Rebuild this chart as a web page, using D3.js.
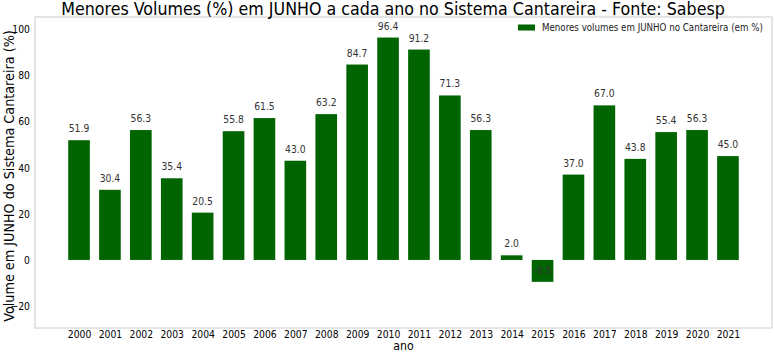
<!DOCTYPE html>
<html><head><meta charset="utf-8">
<script src="https://cdn.jsdelivr.net/npm/d3@7"></script>
<style>body{margin:0;background:#fff}svg{display:block;font-family:"DejaVu Sans",sans-serif}</style>
</head><body>
<script>
const years = ["2000","2001","2002","2003","2004","2005","2006","2007","2008","2009","2010","2011","2012","2013","2014","2015","2016","2017","2018","2019","2020","2021"];
const volumes = [51.9,30.4,56.3,35.4,20.5,55.8,61.5,43.0,63.2,84.7,96.4,91.2,71.3,56.3,2.0,-9.5,37.0,67.0,43.8,55.4,56.3,45.0];
const yTicks = [-20,0,20,40,60,80,100];
const titleText = "Menores Volumes (%) em JUNHO a cada ano no Sistema Cantareira  - Fonte: Sabesp";
const legendText = "Menores volumes em JUNHO no Cantareira (em %)";
const yLabel = "Volume em JUNHO do Sistema Cantareira (%)";
const xLabel = "ano";

const W=774,H=352;
const L=35,R=772,T=17,B=328;
const svg=d3.select("body").append("svg").attr("width",W).attr("height",H);
const x=d3.scaleLinear().domain([-1.425,years.length-1+1.425]).range([L,R]);
const y=d3.scaleLinear().domain([-29.5,105.3]).range([B,T]);
const bw=(x(1)-x(0))*0.7;
const green="#006400";
const C=0.88;
function condense(sel,f){sel.each(function(){const n=this.getComputedTextLength();d3.select(this).attr("textLength",n*f).attr("lengthAdjust","spacingAndGlyphs");});}

svg.append("rect").attr("x",L).attr("y",T).attr("width",R-L).attr("height",B-T)
  .attr("fill","none").attr("stroke","#cccccc").attr("stroke-width",1);

svg.selectAll("rect.bar").data(volumes).join("rect").attr("class","bar")
  .attr("x",(d,i)=>x(i)-bw/2).attr("width",bw)
  .attr("y",d=>Math.min(y(d),y(0))).attr("height",d=>Math.abs(y(d)-y(0)))
  .attr("fill",green);

svg.selectAll("text.val").data(volumes).join("text").attr("class","val")
  .attr("x",(d,i)=>x(i)).attr("y",d=>y(d)-8)
  .attr("text-anchor","middle").attr("font-size",10.5).attr("fill","#333")
  .text(d=>d.toFixed(1)).call(condense,C);

// y axis
const ya=d3.axisLeft(y).tickValues(yTicks).tickSize(0).tickPadding(4).tickFormat(d=>d<0?"\u2212"+Math.abs(d):d);
const gy=svg.append("g").attr("transform",`translate(${L-1},0)`).call(ya);
gy.select(".domain").remove();
gy.selectAll("text").attr("font-size",10.5).attr("fill","#000").attr("font-family","DejaVu Sans").call(condense,C);

// x axis
const xa=d3.axisBottom(x).tickValues(d3.range(years.length)).tickSize(0).tickPadding(0).tickFormat(i=>years[i]);
const gx=svg.append("g").attr("transform",`translate(0,${B})`).call(xa);
gx.select(".domain").remove();
gx.selectAll("text").attr("font-size",10.5).attr("fill","#000").attr("font-family","DejaVu Sans").attr("dy",null).attr("y",10).call(condense,C);

// title
const tt=svg.append("text").attr("text-anchor","middle")
  .attr("font-size",17).attr("fill","#000").text(titleText);
const tw=tt.node().getComputedTextLength();
tt.attr("transform",`translate(393,14.5) scale(${664/tw},1)`);

svg.append("text").attr("x",(L+R)/2).attr("y",350).attr("text-anchor","middle")
  .attr("font-size",12.5).attr("fill","#000").text(xLabel).call(condense,C);

const yl=svg.append("text").attr("text-anchor","middle")
  .attr("font-size",14).attr("fill","#000").text(yLabel);
const yw=yl.node().getComputedTextLength();
yl.attr("transform",`translate(14,176) rotate(-90) scale(${292/yw},1)`);

// legend
svg.append("rect").attr("x",518).attr("y",24.5).attr("width",17).attr("height",6).attr("fill",green);
const lt=svg.append("text").attr("font-size",10).attr("fill","#222").text(legendText);
const lw=lt.node().getComputedTextLength();
lt.attr("transform",`translate(542,31) scale(${221/lw},1)`);
</script>
</body></html>
